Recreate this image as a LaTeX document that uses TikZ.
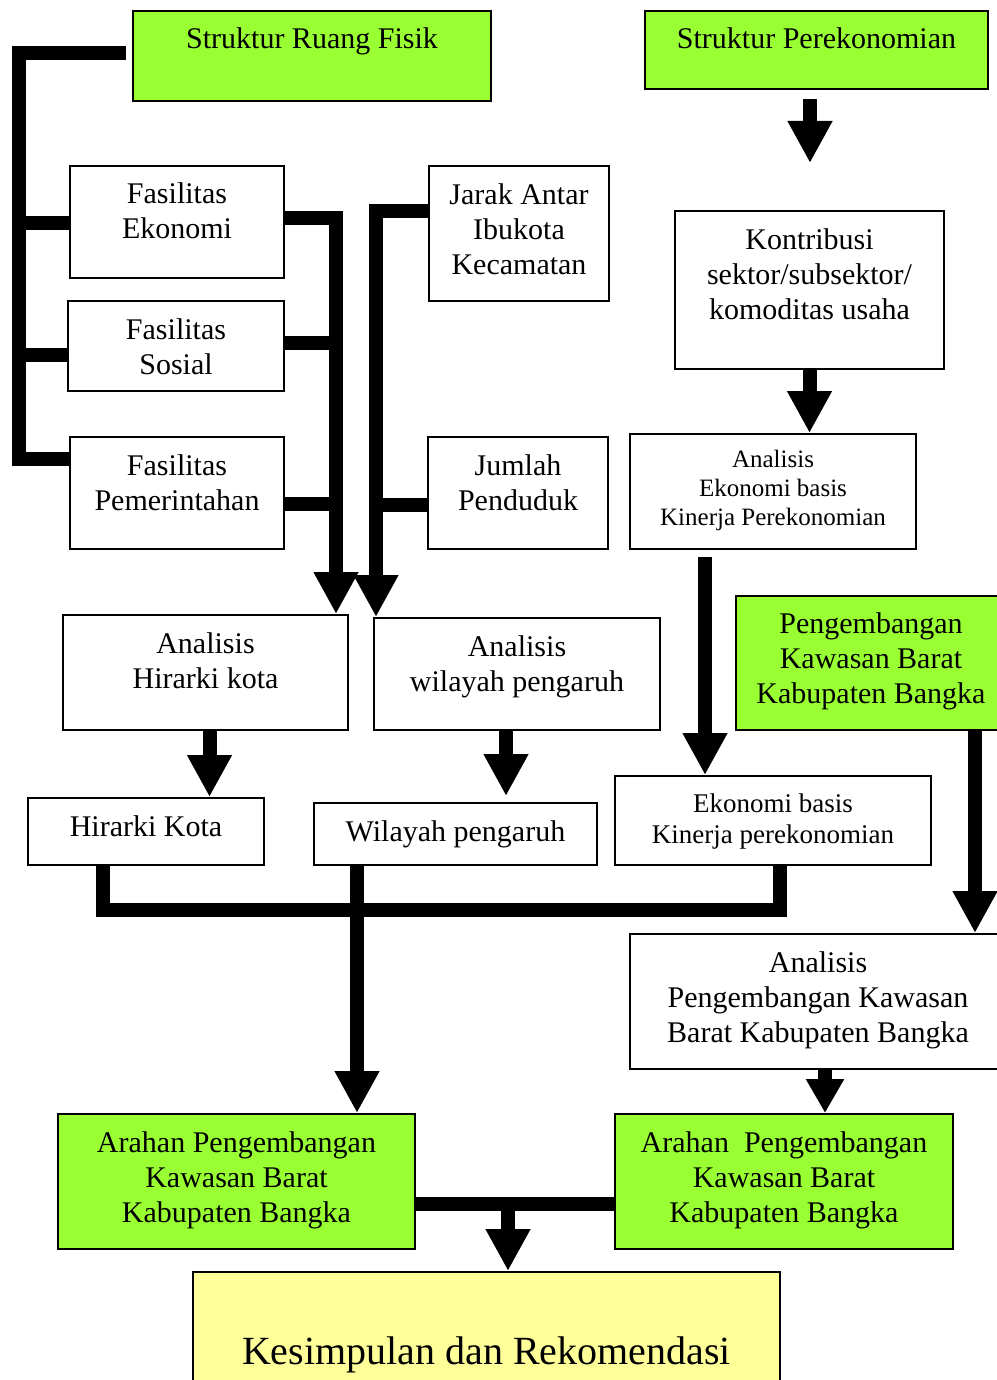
\documentclass[tikz,border=0pt]{standalone}
\usepackage{fontspec}
\setmainfont{Liberation Serif}
\usetikzlibrary{arrows.meta}

\begin{document}
\begin{tikzpicture}[x=1pt, y=-1pt,
    box/.style n args={3}{draw, line width=2pt, inner sep=0pt, align=center,
        font=\fontsize{30}{35}\selectfont, minimum width=#1,
        text height=#2, text depth=#3, anchor=north west},
    small/.style 2 args={font=\fontsize{#1}{#2}\selectfont},
    bar/.style={line width=14pt},
    arrow/.style={bar, -{Triangle[length=42pt, width=42pt]}},
    short head/.style={bar, -{Triangle[length=34pt, width=36pt]}}
    ]
    % Define colors
    \definecolor{hijau}{RGB}{153, 255, 51}
    \definecolor{kuning}{RGB}{255, 255, 153}

    \useasboundingbox (0,0) rectangle (996,1380);

    % Boxes of the physical structure
    \node[box={358pt}{38pt}{52pt}, fill=hijau] (srf) at (132,10) {Struktur Ruang Fisik};
    \node[box={214pt}{73pt}{39pt}] (fe) at (69,165) {Fasilitas\\Ekonomi};
    \node[box={216pt}{73pt}{17pt}] (fs) at (67,300) {Fasilitas\\Sosial};
    \node[box={214pt}{73pt}{39pt}] (fp) at (69,436) {Fasilitas\\Pemerintahan};
    \node[box={180pt}{108pt}{27pt}] (jar) at (428,165) {Jarak Antar\\Ibukota\\Kecamatan};
    \node[box={180pt}{73pt}{39pt}] (jum) at (427,436) {Jumlah\\Penduduk};

    % Boxes of the economic structure
    \node[box={343pt}{38pt}{40pt}, fill=hijau] (sp) at (644,10) {Struktur Perekonomian};
    \node[box={269pt}{108pt}{50pt}] (kon) at (674,210) {Kontribusi\\sektor/subsektor/\\komoditas usaha};
    \node[box={286pt}{91pt}{24pt}, small={25}{29}] (aeb) at (629,433) {Analisis\\Ekonomi basis\\Kinerja Perekonomian};
    \node[box={270pt}{107pt}{27pt}, fill=hijau] (pkb) at (735,595) {Pengembangan\\Kawasan Barat\\Kabupaten Bangka};

    % Analysis and results
    \node[box={285pt}{73pt}{42pt}] (ahk) at (62,614) {Analisis\\Hirarki kota};
    \node[box={286pt}{73pt}{39pt}] (awp) at (373,617) {Analisis\\wilayah pengaruh};
    \node[box={236pt}{38pt}{29pt}] (hk) at (27,797) {Hirarki Kota};
    \node[box={283pt}{38pt}{24pt}] (wp) at (313,802) {Wilayah pengaruh};
    \node[box={316pt}{67pt}{22pt}, small={27}{31}] (ekb) at (614,775) {Ekonomi basis\\Kinerja perekonomian};
    \node[box={376pt}{108pt}{27pt}] (apkb) at (629,933) {Analisis\\Pengembangan Kawasan\\Barat Kabupaten Bangka};

    % Directions and conclusion
    \node[box={357pt}{108pt}{27pt}, fill=hijau] (arl) at (57,1113) {Arahan Pengembangan\\Kawasan Barat\\Kabupaten Bangka};
    \node[box={338pt}{108pt}{27pt}, fill=hijau] (arr) at (614,1113) {Arahan\ \ Pengembangan\\Kawasan Barat\\Kabupaten Bangka};
    \node[box={587pt}{92pt}{48pt}, fill=kuning, font=\fontsize{40}{46}\selectfont] (kes) at (192,1271) {Kesimpulan dan Rekomendasi};

    % Spines of the connectors
    \coordinate (spineL) at (19,0);
    \coordinate (spineA) at (336,0);
    \coordinate (spineB) at (376,0);
    \coordinate (colE) at (705,0);
    \coordinate (colP) at (975,0);
    \coordinate (spTip) at (810,163);
    \coordinate (merge) at (357,910);
    \coordinate (join) at (508,1204);

    % Left bracket from Struktur Ruang Fisik
    \coordinate (bFE) at ([yshift=-1pt]fe.west);
    \coordinate (bFS) at ([yshift=-9pt]fs.west);
    \coordinate (bFP) at ([yshift=34pt]fp.west);
    \draw[bar] ([xshift=-6pt, yshift=3pt]srf.west) -| (bFP -| spineL) -- (bFP);
    \draw[bar] (bFE -| spineL) -- (bFE);
    \draw[bar] (bFS -| spineL) -- (bFS);

    % Facilities into the hierarchy analysis
    \coordinate (rFE) at ([yshift=4pt]fe.east);
    \coordinate (rFS) at ([yshift=3pt]fs.east);
    \coordinate (rFP) at ([yshift=-11pt]fp.east);
    \draw[arrow] (rFE) -| (ahk.north -| spineA);
    \draw[bar] (rFS) -- (rFS -| spineA);
    \draw[bar] (rFP) -- (rFP -| spineA);

    % Distance and population into the influence analysis
    \coordinate (rJA) at ([yshift=22pt]jar.west);
    \coordinate (rJP) at ([yshift=-12pt]jum.west);
    \draw[arrow] (rJA) -| (awp.north -| spineB);
    \draw[bar] (rJP) -- (rJP -| spineB);

    % Economic column
    \draw[arrow, shorten <=9pt] (sp.south -| spTip) -- (spTip);
    \draw[arrow] (kon.south) -- (kon.south |- aeb.north);
    \draw[arrow, shorten <=7pt] (aeb.south -| colE) -- (ekb.north -| colE);
    \draw[arrow] (pkb.south -| colP) -- (apkb.north -| colP);
    \draw[short head] ([xshift=7pt]apkb.south) -- ([xshift=7pt]apkb.south |- arr.north);

    % Analysis to results
    \draw[arrow] ([xshift=4pt]ahk.south) -- ([xshift=4pt]ahk.south |- hk.north);
    \draw[arrow, shorten >=6pt] ([xshift=-11pt]awp.south) -- ([xshift=-11pt]awp.south |- wp.north);

    % Results merged into the left direction
    \draw[bar] ([xshift=-43pt]hk.south) |- (merge) -| ([xshift=7pt]ekb.south);
    \draw[arrow] (wp.south -| merge) -- (arl.north -| merge);

    % Both directions into the conclusion
    \draw[bar] (arl.east |- join) -- (arr.west |- join);
    \draw[arrow] (join) -- (kes.north -| join);

\end{tikzpicture}
\end{document}
